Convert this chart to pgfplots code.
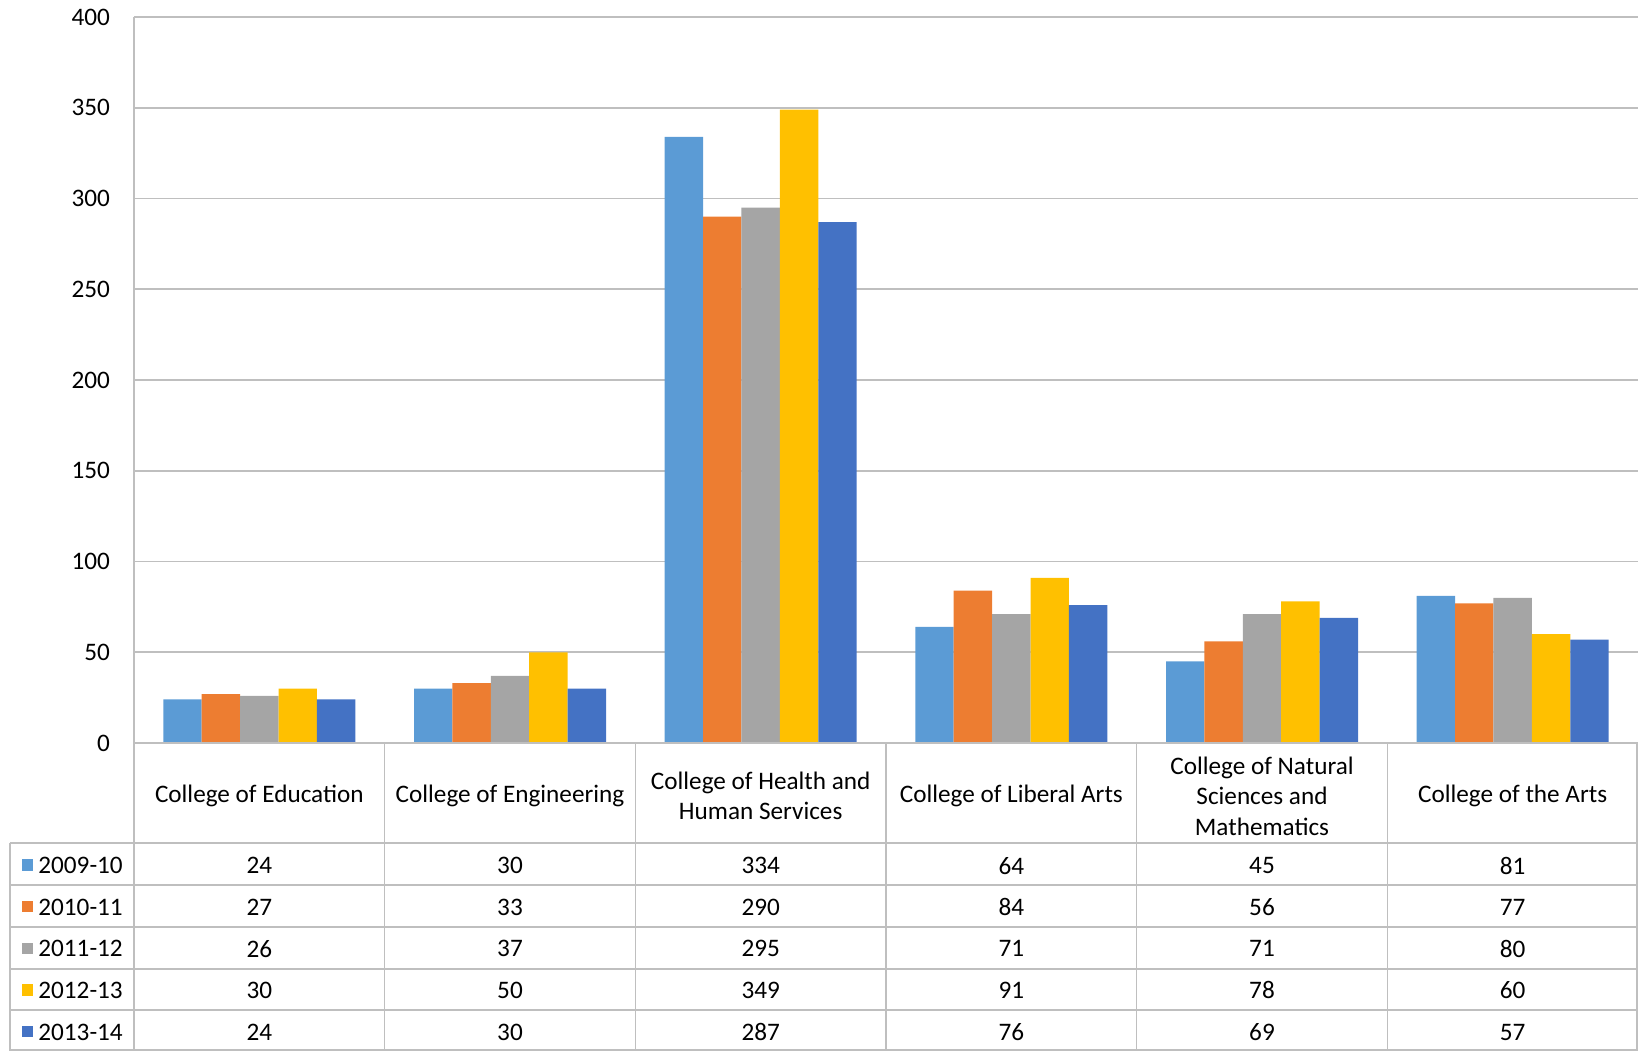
\documentclass[border=0pt]{standalone}
\usepackage{pgfplots}
\pgfplotsset{compat=1.18}
\usepackage{pgfplotstable}
\usepackage{fontspec}
\setmainfont{Carlito}

\definecolor{c1}{HTML}{5B9BD5}
\definecolor{c2}{HTML}{ED7D31}
\definecolor{c3}{HTML}{A5A5A5}
\definecolor{c4}{HTML}{FFC000}
\definecolor{c5}{HTML}{4472C4}
\definecolor{gridc}{HTML}{BFBFBF}

\newcommand\cf{\fontsize{12.6}{15.2}\selectfont}

% one row per college, one column per academic year
\pgfplotstableread{
idx s0910 s1011 s1112 s1213 s1314
0   24    27    26    30    24
1   30    33    37    50    30
2   334   290   295   349   287
3   64    84    71    91    76
4   45    56    71    78    69
5   81    77    80    60    57
}\data

\begin{document}
\begin{tikzpicture}[x=1pt,y=1pt]
\useasboundingbox (-67,-154) rectangle (752,371.5);
\begin{axis}[
    at={(0,0)}, anchor=south west,
    scale only axis, width=752pt, height=363pt,
    xmin=-0.5, xmax=5.5, ymin=0, ymax=400,
    ybar=0pt, bar width=19.2pt,
    xtick=\empty, ytick={0,50,...,400},
    ymajorgrids, grid style={gridc, line width=0.8pt},
    separate axis lines,
    axis x line*=bottom, axis y line*=left,
    axis line style={gridc, line width=0.8pt},
    major tick length=0pt,
    yticklabel style={font=\cf, xshift=-8.5pt},
    /pgf/number format/assume math mode=true,
]
\addplot[fill=c1, draw=none] table[x=idx, y=s0910] {\data};
\addplot[fill=c2, draw=none] table[x=idx, y=s1011] {\data};
\addplot[fill=c3, draw=none] table[x=idx, y=s1112] {\data};
\addplot[fill=c4, draw=none] table[x=idx, y=s1213] {\data};
\addplot[fill=c5, draw=none] table[x=idx, y=s1314] {\data};
\end{axis}

% data table under the chart
\def\cw{125.333}
\begin{scope}[gridc, line width=0.8pt]
  \draw (0,0) -- (752,0);
  \foreach \y in {-50,-71,-92,-113,-133.5,-153.6}
    \draw (-62,\y) -- (752,\y);
  \foreach \k in {0,...,5}
    \draw ({\k*\cw},0) -- ({\k*\cw},-154);
  \draw (751.6,0) -- (751.6,-154);
  \draw (-62,-50) -- (-62,-154);
\end{scope}

\foreach \lab [count=\k from 0] in {
    {College of Education},
    {College of Engineering},
    {College of Health and\\Human Services},
    {College of Liberal Arts},
    {College of Natural\\Sciences and\\Mathematics},
    {College of the Arts}}
  \node[font=\cf, align=center, inner sep=0pt] at ({(\k+0.5)*\cw},-26.5) {\lab};

\foreach \c/\col/\yr [count=\i from 0] in {
    s0910/c1/2009-10, s1011/c2/2010-11, s1112/c3/2011-12,
    s1213/c4/2012-13, s1314/c5/2013-14} {
  \pgfmathsetmacro\ry{-61.3-20.8*\i}
  \fill[\col] (-56,\ry-2.6) rectangle (-50.3,\ry+3.1);
  \node[font=\cf, anchor=west, inner sep=0pt] at (-48,\ry) {\yr};
  \foreach \r in {0,...,5} {
    \pgfplotstablegetelem{\r}{\c}\of\data
    \node[font=\cf, inner sep=0pt] at ({(\r+0.5)*\cw},\ry) {\pgfplotsretval};
  }
}
\end{tikzpicture}
\end{document}
